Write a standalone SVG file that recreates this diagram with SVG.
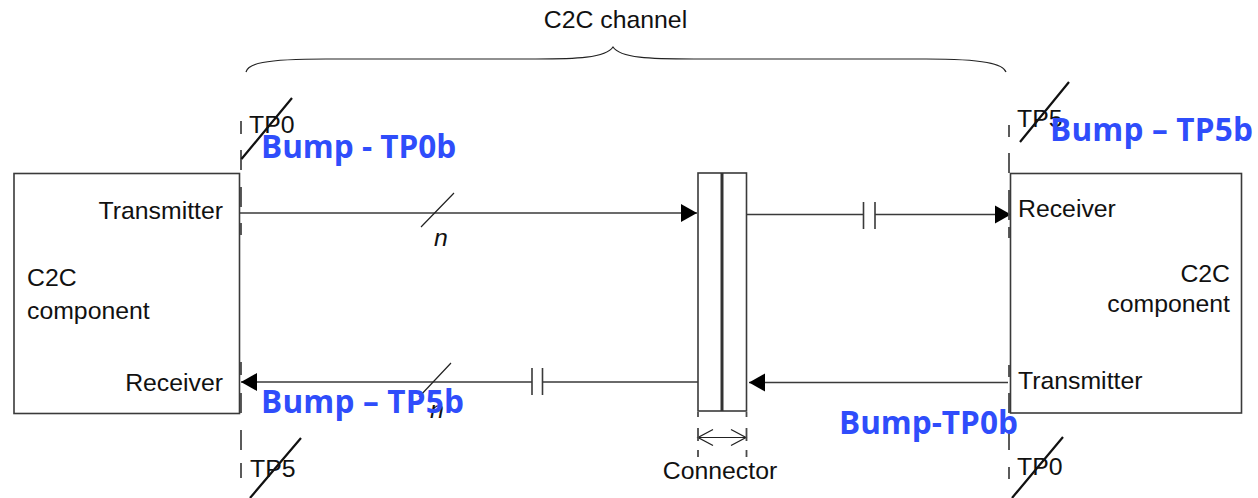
<svg xmlns="http://www.w3.org/2000/svg" width="1258" height="498" viewBox="0 0 1258 498">
<style>
.box{fill:none;stroke:#3a3a3a;stroke-width:1.6}
.ln{fill:none;stroke:#3a3a3a;stroke-width:1.6}
.thin{fill:none;stroke:#222;stroke-width:1.2}
.dash{fill:none;stroke:#4a4a4a;stroke-width:1.8}
.slash{fill:none;stroke:#111;stroke-width:2.2}
.t{font-family:"Liberation Sans",Arial,sans-serif;font-size:24.8px;fill:#111}
.b{font-family:"Open Sans","Noto Sans",sans-serif;font-weight:700;font-size:31.5px;fill:#2f4dfb}
</style>
<defs>
<marker id="ah" markerUnits="userSpaceOnUse" markerWidth="16" markerHeight="20" refX="16" refY="10" orient="auto"><path d="M0,1 L16,10 L0,19 Z" fill="#000"/></marker>
<marker id="oh" markerUnits="userSpaceOnUse" markerWidth="18" markerHeight="20" refX="16" refY="10" orient="auto-start-reverse"><path d="M1,2 L16,10 L1,18" fill="none" stroke="#222" stroke-width="1.3"/></marker>
</defs>
<g id="connectors">
<path class="ln" d="M240,213 H697" marker-end="url(#ah)"/>
<path class="ln" d="M747,214.5 H863.5 M875,214.5 H1011" marker-end="url(#ah)"/>
<path class="ln" d="M1008,382.5 H749" marker-end="url(#ah)"/>
<path class="ln" d="M698,382 H542.5 M532,382 H241" marker-end="url(#ah)"/>
<path class="ln" d="M863.5,202 V229 M875,202 V229 M532,368 V395 M542.5,368 V395"/>
<path class="thin" d="M454,193 L421,227 M451,363 L419,397"/>
<path class="thin" d="M698,437.5 H746" marker-start="url(#oh)" marker-end="url(#oh)"/>
<path class="thin" d="M246,72 C248,64 262,59 326,59 H536 C575,59 606,58 613,47 C620,58 650,59 694,59 H926 C985,59 1003,64 1006,72"/>
<path class="dash" d="M241,121 V134 M241,150 V170 M241,187 V207 M241,223 V235 M241,362 V375 M241,393 V413 M241,430 V450 M241,463 V478"/>
<path class="dash" d="M1009,125 V137 M1009,153 V173 M1009,190 V220 M1009,227 V238 M1009,365 V377 M1009,393 V413 M1009,430 V450 M1009,467 V479"/>
<path class="dash" d="M698,412 V417 M698,428 V441 M698,450 V457 M746.500,412 V417 M746.500,428 V441 M746.500,450 V457"/>
<path class="slash" d="M241.500,159 L292,98 M1020,142 L1069,82 M301,438 L250,498 M1063,437 L1012,498"/>
</g>
<g id="component-left">
<rect class="box" x="14" y="173.500" width="225.500" height="240"/>
<text class="t" x="223" y="219" text-anchor="end">Transmitter</text>
<text class="t" x="27" y="286">C2C</text>
<text class="t" x="27" y="319">component</text>
<text class="t" x="223" y="391" text-anchor="end">Receiver</text>
</g>
<g id="component-right">
<rect class="box" x="1010.500" y="173.500" width="231" height="239.500"/>
<text class="t" x="1018" y="217">Receiver</text>
<text class="t" x="1230" y="282" text-anchor="end">C2C</text>
<text class="t" x="1230" y="312" text-anchor="end">component</text>
<text class="t" x="1018" y="389">Transmitter</text>
</g>
<g id="connector">
<rect class="box" x="698" y="173" width="48.500" height="238"/>
<path d="M722,173 V411" fill="none" stroke="#333" stroke-width="3"/>
<text class="t" x="720" y="479" text-anchor="middle">Connector</text>
</g>
<g id="labels">
<text class="t" x="615.500" y="28" text-anchor="middle">C2C channel</text>
<text class="t" x="249" y="133">TP0</text>
<text class="t" x="1017" y="127">TP5</text>
<text class="t" x="250" y="477">TP5</text>
<text class="t" x="1017" y="475">TP0</text>
<text class="t" x="434" y="246" font-style="italic">n</text>
<text class="t" x="430" y="418" font-style="italic">n</text>
<text class="b" x="261" y="158">Bump - TP0b</text>
<text class="b" x="1050" y="141" textLength="203">Bump – TP5b</text>
<text class="b" x="261" y="413" textLength="203">Bump – TP5b</text>
<text class="b" x="839" y="434">Bump-TP0b</text>
</g>
</svg>
